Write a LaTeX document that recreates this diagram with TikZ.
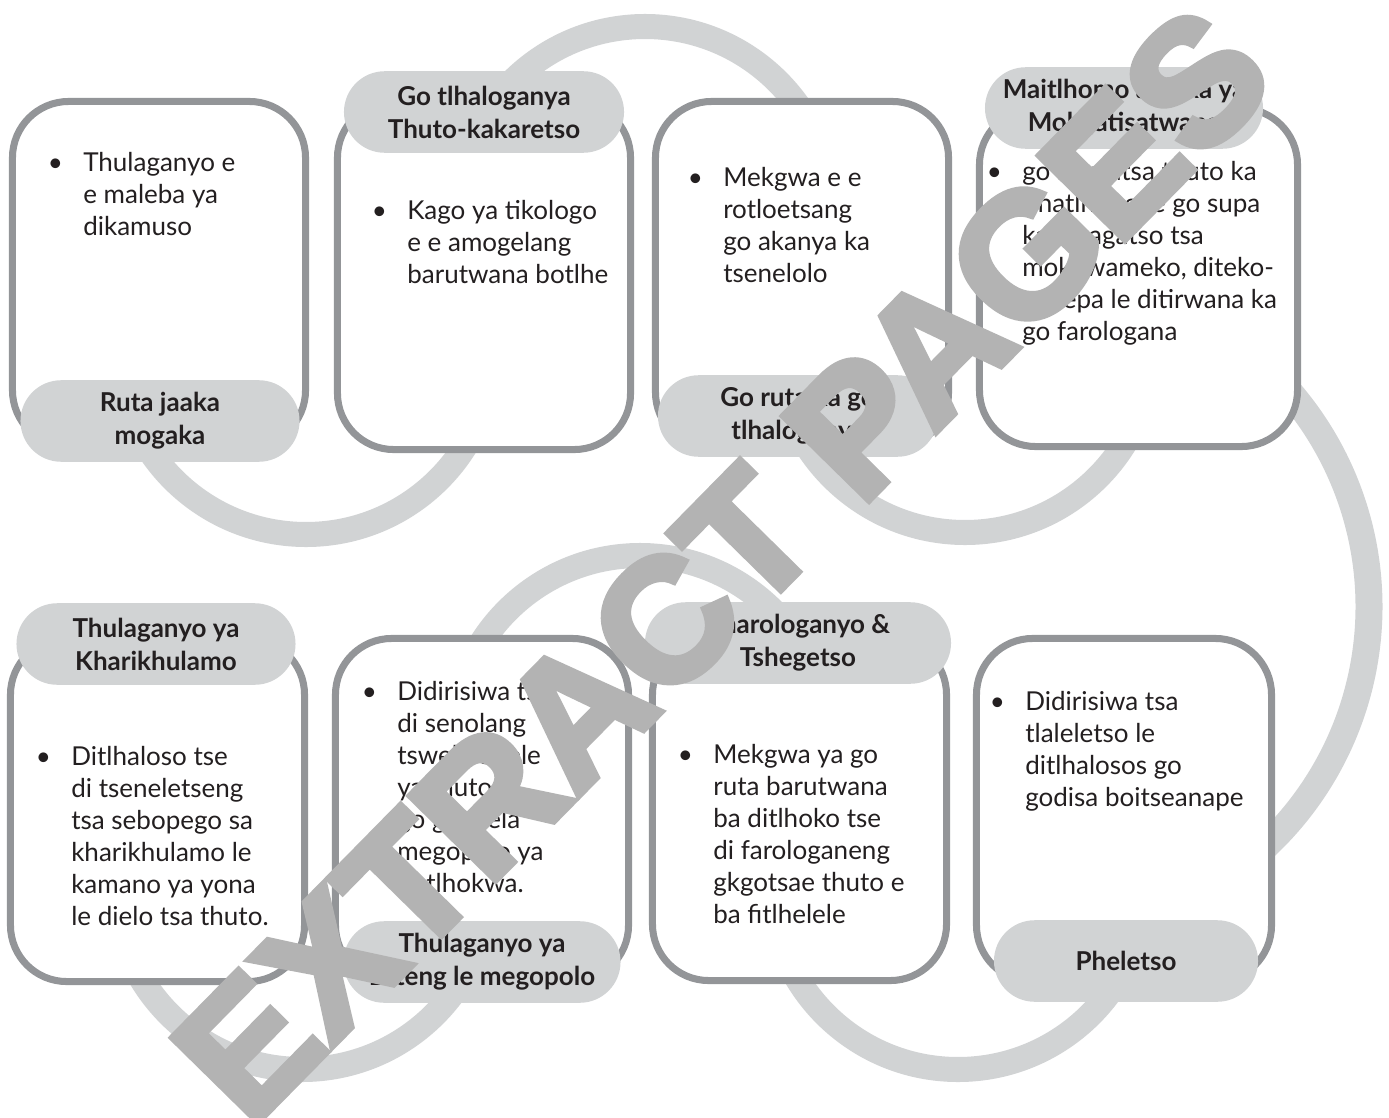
\documentclass[tikz,border=0pt]{standalone}
\usepackage{fontspec}
\setmainfont{Lato}
\newfontfamily\stampfont{Liberation Sans}[UprightFont=* Bold, FakeBold=4]
\definecolor{ringgray}{HTML}{D1D3D4}
\definecolor{cardline}{HTML}{939598}
\definecolor{stampgray}{HTML}{B3B3B3}
\definecolor{ink}{HTML}{231F20}
\newcommand\itembul{\strut\llap{\textbullet\hspace{14.4pt}}}

\begin{document}
\begin{tikzpicture}[x=0.025cm, y=-0.025cm,
  ring/.style={draw=ringgray, line width=17.8pt},
  card/.style 2 args={draw=cardline, line width=5pt, fill=white, rounded corners=40pt,
    minimum width=#1*0.7113pt, minimum height=#2*0.7113pt, inner sep=0pt},
  pill/.style={fill=ringgray, rounded corners=29pt, minimum width=#1*0.7113pt, minimum height=58pt,
    inner sep=0pt, align=center, text=ink, font=\bfseries\fontsize{18.5}{23.5}\selectfont},
  bodytext/.style={anchor=north west, align=left, inner sep=0pt, text=ink,
    font=\fontsize{18.5}{22.75}\selectfont},
  stamp/.style={text=stampgray, inner sep=0pt, font=\stampfont\fontsize{124}{124}\selectfont}]
  \useasboundingbox (0,0) rectangle (1389,1118);
  % grey rings behind the cards
  \foreach \cx/\cy/\a in {306/347/0, 645/214/180, 965/345/0, 302/882/0, 640/743/180, 958/882/0}
    \draw[ring] (\cx,\cy) ++(\a:187.5) arc[start angle=\a, end angle=\a+180, radius=187.5];
  \draw[ring, line width=19.2pt] (1040,606.6) ++(-50:329) arc[start angle=-50, end angle=50, radius=329];
  % cards
  \node[card={293}{345}] (rutabox) at (159,274) {};
  \node[card={293}{348}] (kagobox) at (484,275.5) {};
  \node[card={293}{347}] (mekgwabox) at (802,275) {};
  \node[card={318}{338}] (maitlhomobox) at (1138.5,277.5) {};
  \node[card={294}{343}] (kharibox) at (157.5,810) {};
  \node[card={293}{343}] (ditengbox) at (482,810) {};
  \node[card={294}{342}] (pharobox) at (799.5,809.5) {};
  \node[card={295}{343}] (pheletsobox) at (1124,810) {};
  % headings
  \node[pill=279] (rutapill) at (160,421) {Ruta jaaka\\mogaka};
  \node[pill=280] (kagopill) at (484,112) {Go tlhaloganya\\Thuto-kakaretso};
  \node[pill=280] (mekgwapill) at (798,416) {Go ruta ka go\\tlhaloganya};
  \node[pill=278] (maitlhomopill) at (1124,108) {Maitlhomo a boka ya\\Mokgatisatwana};
  \node[pill=279] (kharipill) at (156,644) {Thulaganyo ya\\Kharikhulamo};
  \node[pill=277] (ditengpill) at (482,962) {Thulaganyo ya\\Diteng le megopolo};
  \node[pill=306] (pharopill) at (798,643) {Pharologanyo \&\\Tshegetso};
  \node[pill=264] (pheletsopill) at (1126,961) {Pheletso};
  % bullet texts
  \node[bodytext] (rutatext) at (83,149) {\itembul Thulaganyo e\\e maleba ya\\dikamuso};
  \node[bodytext] (kagotext) at (407,197) {\itembul Kago ya tikologo\\e e amogelang\\barutwana botlhe};
  \node[bodytext] (mekgwatext) at (723,164) {\itembul Mekgwa e e\\rotloetsang\\go akanya ka\\tsenelolo};
  \node[bodytext] (maitlhomotext) at (1022,158) {\itembul go ntlafatsa thuto ka\\tlhatlhobo le go supa\\ka dikagatso tsa\\mokgwameko, diteko-\\malepa le ditirwana ka\\go farologana};
  \node[bodytext] (kharitext) at (71,743) {\itembul Ditlhaloso tse\\di tseneletseng\\tsa sebopego sa\\kharikhulamo le\\kamano ya yona\\le dielo tsa thuto.};
  \node[bodytext] (ditengtext) at (397,678) {\itembul Didirisiwa tse\\di senolang\\tswelelopele\\ya thuto\\go gatelela\\megopolo ya\\botlhokwa.};
  \node[bodytext] (pharotext) at (713,741) {\itembul Mekgwa ya go\\ruta barutwana\\ba ditlhoko tse\\di farologaneng\\gkgotsae thuto e\\ba fitlhelele};
  \node[bodytext] (pheletsotext) at (1025,688) {\itembul Didirisiwa tsa\\tlaleletso le\\ditlhalosos go\\godisa boitseanape};
  % watermark
  \node[stamp, rotate=45.5] (stamptext) at (722,564) {EXTRACT PAGES};
\end{tikzpicture}
\end{document}
